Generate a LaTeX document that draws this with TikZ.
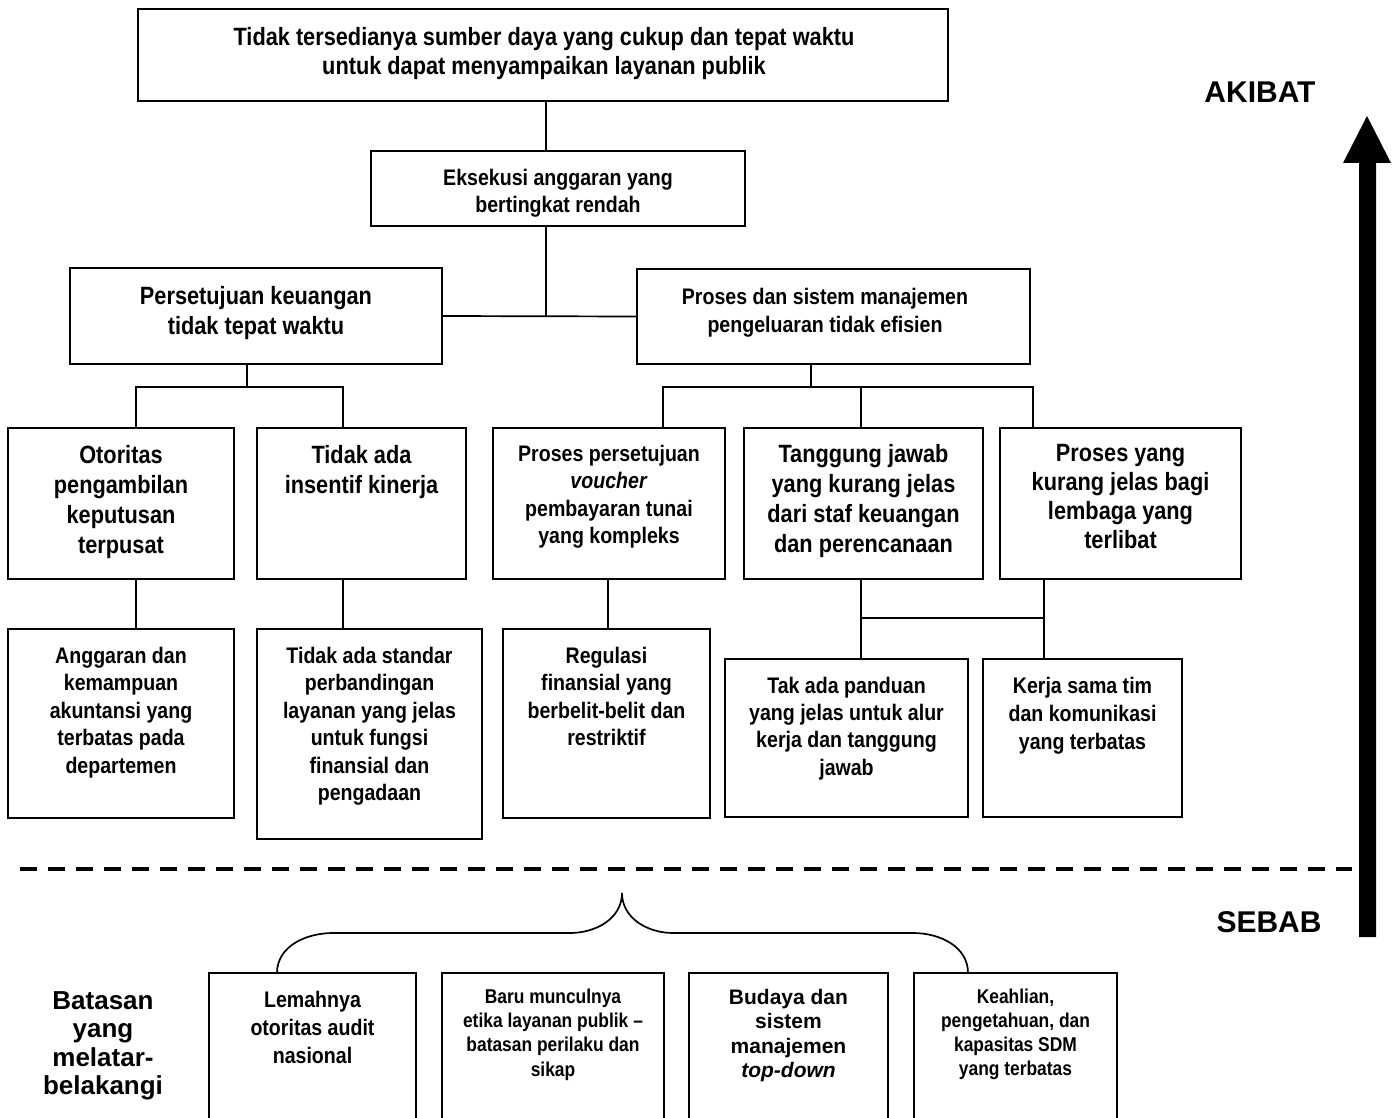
\documentclass[tikz,border=0pt]{standalone}
\usepackage{fontspec}
\setmainfont{Liberation Sans}
\newfontfamily\narrowfam{Liberation Sans}[FakeStretch=0.87]
\newfontfamily\widefam{Liberation Sans}
% condensed bold text: size / leading
\newcommand\nf[2]{\narrowfam\bfseries\fontsize{#1}{#2}\selectfont}
% full-width bold text: size / leading
\newcommand\wf[2]{\widefam\bfseries\fontsize{#1}{#2}\selectfont}
\begin{document}
\begin{tikzpicture}[x=1pt,y=-1pt,
  box/.style={draw, line width=1.8pt, inner sep=0pt, outer sep=0pt},
  ln/.style={line width=1.7pt},
  tx/.style={inner sep=0pt, outer sep=0pt, align=center, anchor=north, font=#1}]
\useasboundingbox (0,0) rectangle (1398,1118);
\clip (0,0) rectangle (1398,1118);

% ---------- effects (upper tree) ----------
\node[box, minimum width=810pt, minimum height=92pt] (top) at (543,55) {};
\node[tx={\nf{25}{29}}] (topT) at (544,27) {Tidak tersedianya sumber daya yang cukup dan tepat waktu\\untuk dapat menyampaikan layanan publik};

\node[box, minimum width=374pt, minimum height=75pt] (eks) at (558,188.5) {};
\node[tx={\nf{22.5}{27}}] (eksT) at (558,168.8) {Eksekusi anggaran yang\\bertingkat rendah};

\node[box, minimum width=372pt, minimum height=96pt] (pers) at (256,316) {};
\node[tx={\nf{25}{30}}] (persT) at (256,286) {Persetujuan keuangan\\tidak tepat waktu};

\node[box, minimum width=393pt, minimum height=95pt] (pros) at (833.5,316.5) {};
\node[tx={\nf{22.5}{28}}] (prosT) at (825,287.8) {Proses dan sistem manajemen\\pengeluaran tidak efisien};

\node[box, minimum width=226pt, minimum height=151pt] (otor) at (121,503.5) {};
\node[tx={\nf{25}{30}}] (otorT) at (121,445) {Otoritas\\pengambilan\\keputusan\\terpusat};

\node[box, minimum width=209pt, minimum height=151pt] (insf) at (361.5,503.5) {};
\node[tx={\nf{25}{30}}] (insfT) at (361.5,445) {Tidak ada\\insentif kinerja};

\node[box, minimum width=232pt, minimum height=151pt] (vouc) at (609,503.5) {};
\node[tx={\nf{22.5}{27.5}}] (voucT) at (609,444.8) {Proses persetujuan\\\textit{voucher}\\pembayaran tunai\\yang kompleks};

\node[box, minimum width=239pt, minimum height=151pt] (tang) at (863.5,503.5) {};
\node[tx={\nf{25}{30}}] (tangT) at (863.5,444) {Tanggung jawab\\yang kurang jelas\\dari staf keuangan\\dan perencanaan};

\node[box, minimum width=241pt, minimum height=151pt] (lemb) at (1120.5,503.5) {};
\node[tx={\nf{25}{29}}] (lembT) at (1120.5,444.5) {Proses yang\\kurang jelas bagi\\lembaga yang\\terlibat};

\node[box, minimum width=226pt, minimum height=189pt] (angg) at (121,723.5) {};
\node[tx={\nf{22.5}{27.5}}] (anggT) at (121,646.8) {Anggaran dan\\kemampuan\\akuntansi yang\\terbatas pada\\departemen};

\node[box, minimum width=225pt, minimum height=210pt] (stdr) at (369.5,734) {};
\node[tx={\nf{22.5}{27.5}}] (stdrT) at (369.5,646.8) {Tidak ada standar\\perbandingan\\layanan yang jelas\\untuk fungsi\\finansial dan\\pengadaan};

\node[box, minimum width=207pt, minimum height=189pt] (regl) at (606.5,723.5) {};
\node[tx={\nf{22.5}{27.5}}] (reglT) at (606.5,646.8) {Regulasi\\finansial yang\\berbelit-belit dan\\restriktif};

\node[box, minimum width=243pt, minimum height=158pt] (pand) at (846.5,738) {};
\node[tx={\nf{22.5}{27.4}}] (pandT) at (846.5,676.8) {Tak ada panduan\\yang jelas untuk alur\\kerja dan tanggung\\jawab};

\node[box, minimum width=199pt, minimum height=158pt] (tim) at (1082.5,738) {};
\node[tx={\nf{22.5}{28}}] (timT) at (1082.5,676.8) {Kerja sama tim\\dan komunikasi\\yang terbatas};

% ---------- tree connectors ----------
\coordinate (spine) at (546,0);
\coordinate (pl) at (247,387);
\coordinate (pr) at (811,387);
\coordinate (xOtor) at (136,0);
\coordinate (xInsf) at (343,0);
\coordinate (xVouc) at (663,0);
\coordinate (xTang) at (861,0);
\coordinate (xLemb) at (1033,0);
\coordinate (xRegl) at (608,0);
\coordinate (xTim) at (1044,0);
\coordinate (yJoin) at (0,618);

\draw[ln] (top.south -| spine) -- (eks.north -| spine);
\draw[ln] (eks.south -| spine) -- (spine |- pers.east);
\draw[ln] (pers.east) -- (pros.west);

\draw[ln] (pers.south -| pl) -- (pl);
\draw[ln] (otor.north -| xOtor) |- (pl) -| (insf.north -| xInsf);
\draw[ln] (pros.south -| pr) -- (pr);
\draw[ln] (vouc.north -| xVouc) |- (pr) -| (lemb.north -| xLemb);
\draw[ln] (pr -| xTang) -- (tang.north -| xTang);

\draw[ln] (otor.south -| xOtor) -- (angg.north -| xOtor);
\draw[ln] (insf.south -| xInsf) -- (stdr.north -| xInsf);
\draw[ln] (vouc.south -| xRegl) -- (regl.north -| xRegl);
\draw[ln] (tang.south -| xTang) -- (pand.north -| xTang);
\draw[ln] (lemb.south -| xTim) -- (tim.north -| xTim);
\draw[ln] (xTang |- yJoin) -- (xTim |- yJoin);

% ---------- cause / effect divider ----------
\coordinate (dashL) at (20,869);
\coordinate (dashR) at (1352,869);
\draw[line width=4pt, dash pattern=on 17pt off 11pt] (dashL) -- (dashR);

% ---------- direction arrow ----------
\fill (1359,937) -- (1359,163) -- (1343,163) -- (1367,116) -- (1391,163)
      -- (1376,163) -- (1376,937) -- cycle;
\node[tx={\wf{30}{34}}] (akibat) at (1260,81.4) {AKIBAT};
\node[tx={\wf{30}{34}}] (sebab) at (1269,911.4) {SEBAB};

% ---------- underlying constraints ----------
\node[tx={\wf{26}{28.5}}] (batas) at (103,991.3) {Batasan\\yang\\melatar-\\belakangi};

\node[box, minimum width=207pt, minimum height=167pt] (audit) at (312.5,1056.5) {};
\node[tx={\nf{22.5}{28}}] (auditT) at (312.5,990.8) {Lemahnya\\otoritas audit\\nasional};

\node[box, minimum width=222pt, minimum height=167pt] (etika) at (553,1056.5) {};
\node[tx={\nf{20}{24.3}}] (etikaT) at (553,988.6) {Baru munculnya\\etika layanan publik \textendash\\batasan perilaku dan\\sikap};

\node[box, minimum width=199pt, minimum height=167pt] (budaya) at (788.5,1056.5) {};
\node[tx={\wf{21}{24.6}}] (budayaT) at (788.5,988.9) {Budaya dan\\sistem\\manajemen\\\textit{top-down}};

\node[box, minimum width=203pt, minimum height=167pt] (sdm) at (1015.5,1056.5) {};
\node[tx={\nf{20}{24}}] (sdmT) at (1015.5,988.6) {Keahlian,\\pengetahuan, dan\\kapasitas SDM\\yang terbatas};

% brace grouping the constraints
\coordinate (brL) at (277,0);
\coordinate (brR) at (968,0);
\coordinate (brPeak) at (622,893);
\draw[ln] (audit.north -| brL) to[out=90,in=180] (333,933) -- (570,933)
  to[out=0,in=-90] (brPeak) to[out=-90,in=180] (673,933) -- (913,933)
  to[out=0,in=90] (sdm.north -| brR);
\end{tikzpicture}
\end{document}
